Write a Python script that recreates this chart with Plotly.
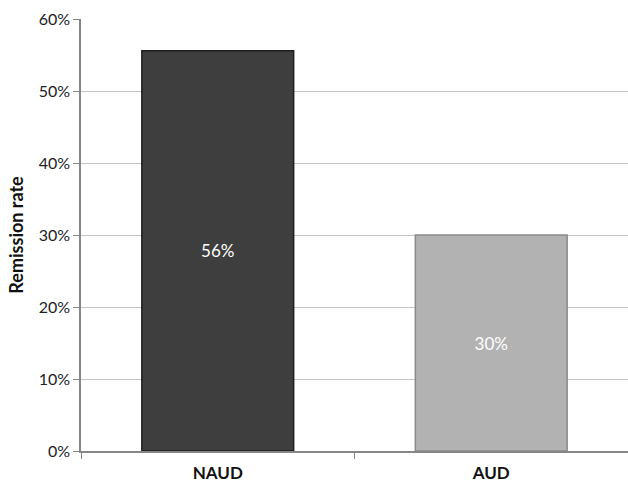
import plotly.graph_objects as go

categories = ["NAUD", "AUD"]
values = [55.6, 30.0]
labels = ["56%", "30%"]
bar_colors = ["#3e3e3e", "#b2b2b2"]
tick_vals = [0, 10, 20, 30, 40, 50, 60]
tick_text = ["0%", "10%", "20%", "30%", "40%", "50%", "60%"]

fig = go.Figure()
fig.add_trace(go.Bar(
    x=categories, y=values, text=labels,
    textposition="inside", insidetextanchor="middle",
    textfont=dict(color="white", size=17, family="Lato, Open Sans, sans-serif"),
    marker=dict(color=bar_colors, line=dict(color=["#1e1e1e", "#8a8a8a"], width=1.5)),
    width=0.555,
    hoverinfo="skip",
))

fig.update_layout(
    width=628, height=484,
    margin=dict(l=81, r=0, t=19, b=33),
    plot_bgcolor="white", paper_bgcolor="white",
    showlegend=False,
    font=dict(family="Lato, Open Sans, sans-serif", size=15, color="#222222"),
)
fig.update_xaxes(
    automargin=False,
    showline=True, linecolor="#868686", linewidth=1.5,
    ticks="outside", tickson="boundaries", ticklen=6, tickcolor="#868686",
    tickfont=dict(size=17, family="Lato, Open Sans, sans-serif", color="#111111", weight="bold"),
    ticklabelstandoff=6,
    showgrid=False,
)
fig.update_yaxes(
    automargin=False,
    range=[0, 60], tickvals=tick_vals, ticktext=tick_text,
    showline=True, linecolor="#868686", linewidth=1.5,
    ticks="outside", ticklen=6, tickcolor="#868686",
    showgrid=True, gridcolor="#c4c4c4", gridwidth=1,
    zeroline=False,
    title=dict(text="<b>Remission rate</b>", font=dict(size=18, color="#111111"), standoff=10),
    tickfont=dict(size=16, color="#222222"),
)

fig.write_html("out.html")
